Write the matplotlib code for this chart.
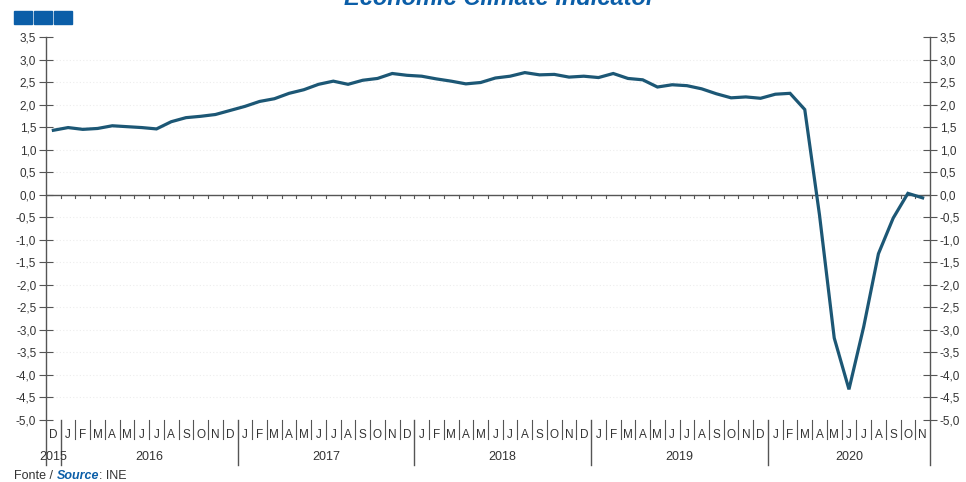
import matplotlib
matplotlib.use("Agg")
import matplotlib.pyplot as plt
import matplotlib.transforms as mtransforms
import numpy as np

# ---- data ----
month_labels = (["D"] + list("JFMAMJJASOND") * 4 + list("JFMAMJJASON"))
year_labels = ["2015", "2016", "2017", "2018", "2019", "2020"]
year_lengths = [1, 12, 12, 12, 12, 11]
values = [1.43, 1.49, 1.45, 1.47, 1.53, 1.51, 1.49, 1.46, 1.62, 1.71, 1.74, 1.78,
          1.87, 1.96, 2.07, 2.13, 2.25, 2.33, 2.45, 2.52, 2.45, 2.54, 2.58, 2.69,
          2.65, 2.63, 2.57, 2.52, 2.46, 2.49, 2.59, 2.63, 2.71, 2.66, 2.67, 2.61,
          2.63, 2.60, 2.69, 2.58, 2.55, 2.39, 2.44, 2.42, 2.35, 2.24, 2.15, 2.17,
          2.14, 2.23, 2.25, 1.89, -0.45, -3.18, -4.32, -2.93, -1.31, -0.52, 0.03, -0.07]
y_ticks = [3.5, 3.0, 2.5, 2.0, 1.5, 1.0, 0.5, 0.0, -0.5, -1.0, -1.5, -2.0,
           -2.5, -3.0, -3.5, -4.0, -4.5, -5.0]
title = "Economic Climate Indicator"

plt.rcParams['font.family'] = ['Liberation Sans', 'DejaVu Sans']

W, H = 966, 482
fig = plt.figure(figsize=(W / 100, H / 100), dpi=100)
ax_l, ax_r, ax_t, ax_b = 46, 930, 37, 420
ax = fig.add_axes([ax_l / W, 1 - ax_b / H, (ax_r - ax_l) / W, (ax_b - ax_t) / H])

n = len(values)
ax.set_xlim(0, n)
ax.set_ylim(-5.0, 3.5)

axis_col = "#555555"
text_col = "#333333"
line_col = "#1c5775"

# grid
for yv in y_ticks:
    if yv not in (0.0, -5.0, 3.5):
        ax.axhline(yv, color="#ededed", lw=0.8, ls=(0, (1, 2)), zorder=0)

# zero line with small ticks
ax.axhline(0, color=axis_col, lw=1.0, zorder=2)
zero_ticks_y = -3 / ((ax_b - ax_t) / 8.5)
for k in range(1, n):
    ax.plot([k, k], [0, zero_ticks_y], color=axis_col, lw=0.8, zorder=2)

# series
x = np.arange(n) + 0.5
ax.plot(x, values, color=line_col, lw=2.3, solid_joinstyle='miter', zorder=3)

# spines
for s in ["top", "bottom", "left", "right"]:
    ax.spines[s].set_visible(False)

ax.set_xticks([])
ax.set_yticks(y_ticks)
ax.set_yticklabels([f"{v:.1f}".replace(".", ",") for v in y_ticks])
ax.tick_params(axis='y', which='both', left=True, right=True, labelleft=True,
               labelright=True, direction='inout', length=10, width=0.8,
               color=axis_col, labelsize=8.5, labelcolor=text_col, pad=2)

ah = ax_b - ax_t
blend = mtransforms.blended_transform_factory(ax.transData, ax.transAxes)

# vertical axis lines extending below
bottom_ext = -(465 - ax_b) / ah
for xv in (0, n):
    ax.plot([xv, xv], [1, bottom_ext], transform=blend, color=axis_col,
            lw=1.0, clip_on=False, zorder=4)

# category axis separators
year_bounds = np.cumsum(year_lengths)[:-1]
short_ext = -(439 - ax_b) / ah
for k in range(1, n):
    if k in year_bounds:
        ax.plot([k, k], [0, bottom_ext], transform=blend, color=axis_col,
                lw=1.0, clip_on=False)
    else:
        ax.plot([k, k], [0, short_ext], transform=blend, color=axis_col,
                lw=0.8, clip_on=False)

month_y = -(435.5 - ax_b) / ah
for i, m in enumerate(month_labels):
    ax.text(i + 0.5, month_y, m, transform=blend, ha='center', va='center',
            fontsize=8.5, color=text_col, clip_on=False)

year_y = -(457.5 - ax_b) / ah
start = 0
for lab, ln in zip(year_labels, year_lengths):
    ax.text(start + ln / 2, year_y, lab, transform=blend, ha='center',
            va='center', fontsize=9, color=text_col, clip_on=False)
    start += ln

# title (partly cut off at top, as in the reference)
fig.text(500 / W, 1 - 5 / H, title, ha='center', va='baseline',
         fontsize=17, fontweight='bold', fontstyle='italic', color="#0b5ea8")

# logo squares
for j in range(3):
    fig.patches.append(plt.Rectangle(((14 + j * 20) / W, 1 - 24 / H), 18 / W, 13 / H,
                                     transform=fig.transFigure, color="#0b5ea8",
                                     zorder=5))

# source
t1 = fig.text(14 / W, 1 - 476 / H, "Fonte / ", ha='left', va='center',
              fontsize=9, color=text_col)
fig.canvas.draw()
r = fig.canvas.get_renderer()
bb = t1.get_window_extent(r)
t2 = fig.text(bb.x1 / W, 1 - 476 / H, "Source", ha='left', va='center',
              fontsize=9, color="#0b5ea8", fontweight='bold', fontstyle='italic')
bb2 = t2.get_window_extent(r)
fig.text(bb2.x1 / W, 1 - 476 / H, ": INE", ha='left', va='center',
         fontsize=9, color=text_col)

fig.savefig("out.png", dpi=100)
